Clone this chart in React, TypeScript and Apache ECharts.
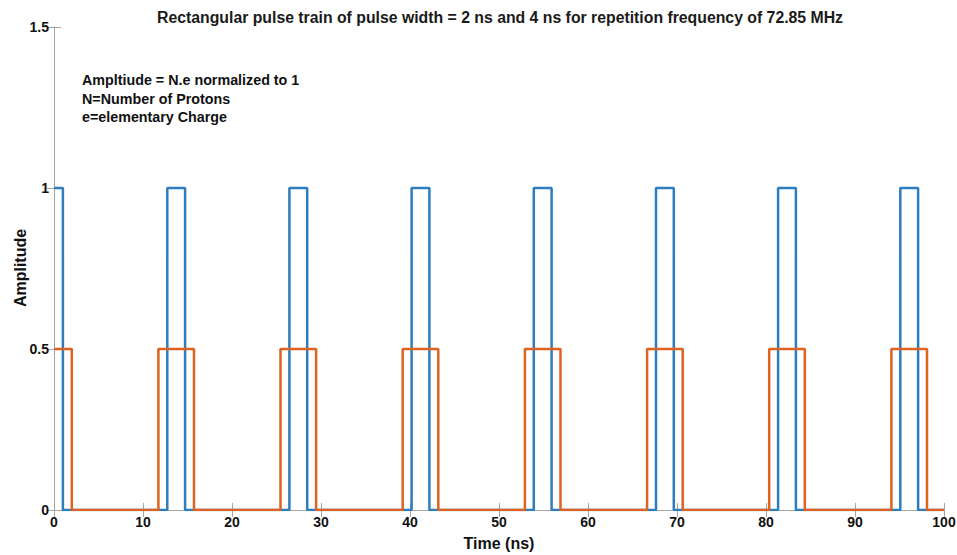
import React, { useEffect, useRef } from "react";
import * as echarts from "echarts";

// Pulse edges (ns)
const bluePulses: [number, number][] = [
  [0, 1.0], [12.73, 14.73], [26.45, 28.45], [40.18, 42.18],
  [53.91, 55.91], [67.64, 69.64], [81.36, 83.36], [95.09, 97.09],
];
const orangePulses: [number, number][] = [
  [0, 2.0], [11.73, 15.73], [25.45, 29.45], [39.18, 43.18],
  [52.91, 56.91], [66.64, 70.64], [80.36, 84.36], [94.09, 98.09],
];
const blueAmplitude = 1;
const orangeAmplitude = 0.5;
const xEnd = 100;
const title = "Rectangular pulse train of pulse width = 2 ns and 4 ns for repetition frequency of 72.85 MHz";
const noteLines = ["Ampltiude = N.e normalized to 1", "N=Number of Protons", "e=elementary Charge"];
const yAxisTitle = "Amplitude";

function buildTrain(pulses: [number, number][], amp: number): number[][] {
  const pts: number[][] = [];
  pulses.forEach(([r, f]) => {
    if (r > 0) pts.push([r, 0]);
    pts.push([r, amp], [f, amp], [f, 0]);
  });
  pts.push([xEnd, 0]);
  return pts;
}

const FONT = "Liberation Sans, Arial, Helvetica, sans-serif";
const AXIS_COLOR = "#a6a6a6";

export default function App() {
  const ref = useRef<HTMLDivElement>(null);
  useEffect(() => {
    if (!ref.current) return;
    const chart = echarts.init(ref.current, undefined, { renderer: "svg" });
    const grid = { left: 54, right: 13, top: 27, bottom: 45, containLabel: false, outerBoundsMode: "none" };
    chart.setOption({
      animation: false,
      backgroundColor: "#ffffff",
      title: {
        text: title,
        left: 495,
        textAlign: "center",
        top: 4,
        textStyle: { fontFamily: FONT, fontSize: 15.8, fontWeight: "bold", color: "#1a1a1a" },
      },
      grid,
      graphic: [
        ...noteLines.map((t, i) => ({
          type: "text",
          left: 82,
          top: 73 + i * 18.5,
          style: { text: t, font: `bold 14.3px ${FONT}`, fill: "#111" },
        })),
        {
          type: "text",
          x: 20,
          y: 268,
          rotation: Math.PI / 2,
          style: {
            text: yAxisTitle,
            font: `bold 16px ${FONT}`,
            fill: "#111",
            textAlign: "center",
            textVerticalAlign: "middle",
          },
        },
      ],
      xAxis: [
        {
          type: "value",
          min: 0,
          max: 100,
          interval: 10,
          name: "Time (ns)",
          nameLocation: "middle",
          nameGap: 25,
          nameTextStyle: { fontFamily: FONT, fontSize: 16, fontWeight: "bold", color: "#111" },
          axisLine: { lineStyle: { color: AXIS_COLOR, width: 1 } },
          axisTick: { inside: true, length: 7, lineStyle: { color: AXIS_COLOR } },
          axisLabel: { fontFamily: FONT, fontSize: 14, fontWeight: "bold", color: "#111", margin: 5 },
          splitLine: { show: false },
        },
        {
          type: "value",
          position: "top",
          min: 0,
          max: 100,
          interval: 10,
          axisLine: { show: true, lineStyle: { color: AXIS_COLOR, width: 1 } },
          axisTick: { show: true, inside: true, length: 7, lineStyle: { color: AXIS_COLOR } },
          axisLabel: { show: false },
          splitLine: { show: false },
        },
      ],
      yAxis: [
        {
          type: "value",
          min: 0,
          max: 1.5,
          interval: 0.5,
          axisLine: { show: true, lineStyle: { color: AXIS_COLOR, width: 1 } },
          axisTick: { show: true, inside: true, length: 7, lineStyle: { color: AXIS_COLOR } },
          axisLabel: { fontFamily: FONT, fontSize: 14, fontWeight: "bold", color: "#111", margin: 5 },
          splitLine: { show: false },
        },
        {
          type: "value",
          position: "right",
          min: 0,
          max: 1.5,
          interval: 0.5,
          axisLine: { show: true, lineStyle: { color: AXIS_COLOR, width: 1 } },
          axisTick: { show: true, inside: true, length: 7, lineStyle: { color: AXIS_COLOR } },
          axisLabel: { show: false },
          splitLine: { show: false },
        },
      ],
      series: [
        {
          type: "line",
          data: buildTrain(bluePulses, blueAmplitude),
          showSymbol: false,
          lineStyle: { color: "#2d7dbf", width: 2.5 },
          itemStyle: { color: "#2d7dbf" },
          z: 2,
        },
        {
          type: "line",
          data: buildTrain(orangePulses, orangeAmplitude),
          showSymbol: false,
          lineStyle: { color: "#de6220", width: 2.5 },
          itemStyle: { color: "#de6220" },
          z: 3,
        },
      ],
    });
    return () => chart.dispose();
  }, []);
  return (
    <div
      ref={ref}
      style={{ position: "fixed", left: 0, top: 0, width: 957, height: 555, background: "#fff" }}
    />
  );
}
